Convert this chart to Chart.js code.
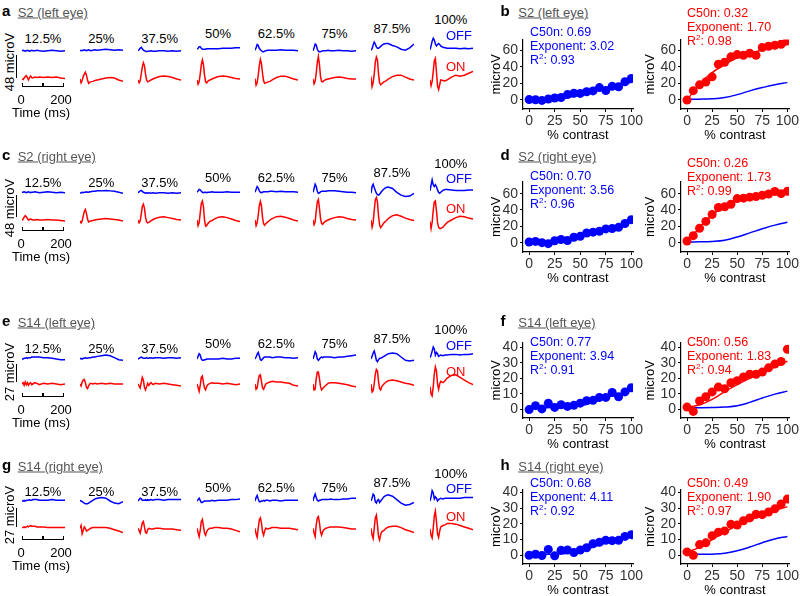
<!DOCTYPE html>
<html>
<head>
<meta charset="utf-8">
<script src="https://cdn.jsdelivr.net/npm/chart.js@4.4.0/dist/chart.umd.min.js"></script>
<style>
body{margin:0;background:#fff;}
#fig{position:relative;width:800px;height:596px;overflow:hidden;font-family:"Liberation Sans",Arial,sans-serif;}
.t{position:absolute;white-space:nowrap;line-height:1;}
canvas{position:absolute;}
.ln{position:absolute;background:#000;}
</style>
</head>
<body>
<div id="fig"></div>
<script>
// ---- data ----
var pctLabels = ['12.5%','25%','37.5%','50%','62.5%','75%','87.5%','100%'];
var tMs = [0,5,10,15,20,25,30,35,40,45,50,60,70,80,100,120,140,160,180,200];

// waveforms in microV (one array per contrast)
var aOn = [
  [0,-1,2,5,7,3,-2,3,6,3,2,4,3,4,3,4,3,4,2,1],
  [0,-8,-3,5,10,14,8,-2,-9,-7,-6,-5,-3,-2,0,2,3,2,-2,-5],
  [-2,-8,-4,10,25,34,28,10,-2,-6,-5,-2,0,2,5,6,5,3,0,-2],
  [-2,-11,-6,10,30,40,30,8,-6,-8,-5,-2,0,2,5,6,5,3,1,0],
  [1,-13,-8,8,28,41,32,12,-4,-9,-8,-6,-5,-2,3,6,6,3,0,-2],
  [0,-10,-5,12,35,47,30,5,-5,-6,-4,-1,0,1,3,4,3,1,0,0],
  [5,-16,-8,10,35,46,40,10,-8,-12,-10,-6,-4,0,5,8,8,4,0,-2],
  [-2,-14,-5,15,38,43,15,-15,-22,-12,-2,-3,-4,-2,4,8,6,8,12,16]
];
var aOff = [
  [0,1,0,-1,0,1,0,-1,0,1,0,0,1,0,-1,0,1,0,-1,0],
  [0,1,0,1,2,1,0,1,2,1,0,1,2,1,2,3,2,1,2,1],
  [0,2,5,7,4,1,0,-1,-2,-1,-1,0,-1,-1,0,0,-1,0,-1,0],
  [3,5,8,8,5,3,3,3,3,4,4,4,4,4,4,5,5,5,6,6],
  [1,6,13,11,5,2,0,-2,-2,-1,0,1,1,1,1,2,1,1,1,0],
  [0,6,14,12,3,-1,-2,-2,-1,0,0,0,1,0,0,1,0,0,-1,0],
  [1,4,12,18,14,8,5,5,7,9,11,14,15,15,11,8,3,1,6,14],
  [2,10,20,26,22,14,10,13,15,13,10,7,6,5,5,5,4,5,4,5]
];
var cOn = [
  [-1,2,6,9,7,3,0,1,2,1,0,0,1,0,0,1,0,0,-1,-2],
  [-2,-6,-2,8,18,22,14,2,-4,-3,-2,-1,0,1,2,3,2,1,0,-2],
  [0,-6,-2,12,28,33,25,6,-4,-6,-5,-2,1,3,6,7,5,3,1,0],
  [0,-12,-6,15,35,40,28,0,-13,-12,-8,-3,-1,2,6,7,5,2,-1,-3],
  [0,-12,-6,10,30,39,30,5,-8,-11,-8,-4,0,3,7,8,6,3,0,-2],
  [0,-10,-4,18,38,43,25,3,-7,-9,-6,-2,0,2,5,7,6,3,1,0],
  [0,-15,-6,20,42,47,38,8,-10,-16,-13,-6,-2,3,9,11,8,4,1,-1],
  [-3,-18,-5,20,38,40,20,-5,-15,-18,-18,-15,-10,-5,0,5,8,7,4,2]
];
var cOff = [
  [0,0,1,0,-1,0,1,0,-1,0,0,1,0,-1,0,1,0,-1,0,-1],
  [-2,-1,0,-1,0,0,1,0,0,1,1,2,2,3,3,4,3,2,0,-2],
  [-1,1,3,4,2,0,-1,-2,-1,-2,-1,-2,-1,-2,-1,-1,-2,-1,-2,-1],
  [0,3,6,5,2,0,-1,0,0,-1,0,0,1,0,0,0,1,0,0,0],
  [0,6,12,9,3,0,-1,0,1,1,1,1,2,2,1,2,1,1,1,0],
  [0,8,17,12,2,-2,-1,1,2,2,2,2,3,3,3,2,1,0,0,-1],
  [-2,12,17,10,4,-2,-5,-6,-4,-1,2,7,10,11,8,0,-6,-9,-8,-2],
  [3,15,26,16,12,16,12,5,0,-2,0,4,6,6,5,4,4,4,5,5]
];
var eOn = [
  [0,2,-2,3,-1,2,-2,1,2,-1,0,2,1,-1,1,0,1,0,-1,0],
  [0,-3,3,6,7,2,-5,-7,-3,0,1,0,1,0,1,0,1,0,0,0],
  [0,-3,-6,2,10,6,-5,-9,-4,1,-2,2,-1,1,0,1,0,-1,-2,-3],
  [0,-5,-11,-2,10,12,2,-6,-9,-4,-1,1,2,1,1,0,1,0,-1,0],
  [0,-8,-6,5,13,14,4,-6,-8,-4,0,2,3,4,3,3,2,1,-2,-3],
  [0,-9,-8,8,18,18,8,-4,-9,-7,-5,-2,1,2,2,1,0,-1,-3,-4],
  [0,-12,-10,0,15,22,20,4,-7,-9,-4,0,3,5,6,5,3,1,0,-2],
  [-4,-15,-18,-4,15,26,20,0,-8,0,4,2,5,9,13,14,10,6,2,-1]
];
var eOff = [
  [0,0,1,1,2,1,2,2,2,3,3,3,3,3,2,2,1,0,-1,-1],
  [0,1,0,1,1,2,1,1,2,2,2,3,3,4,5,6,5,2,-1,-2],
  [0,1,2,3,2,1,1,1,2,1,1,2,1,2,2,1,2,2,1,2],
  [0,4,8,6,0,-2,-2,-1,-1,0,0,0,0,0,0,1,0,0,1,1],
  [0,3,7,10,5,-1,-2,0,2,3,3,3,3,2,3,3,2,2,1,2],
  [0,5,11,8,0,-2,0,2,3,2,3,3,3,3,2,3,3,4,5,6],
  [0,4,9,12,6,-2,-4,-1,1,1,2,4,6,8,9,8,3,-2,-3,-2],
  [2,6,12,18,15,6,10,8,4,5,6,5,6,6,7,7,6,7,7,8]
];
var gOn = [
  [1,1,2,1,2,3,2,3,4,3,3,3,2,2,2,1,1,1,1,1],
  [0,4,-8,-3,2,0,-4,-3,-2,-1,0,1,1,1,1,1,0,-2,-4,-6],
  [0,-3,-7,0,8,10,2,-6,-7,-2,0,-1,-1,0,0,-1,-1,-1,-2,-3],
  [0,-6,-12,-3,10,13,3,-7,-10,-5,-2,0,0,1,1,0,0,-1,-3,-5],
  [0,-8,-13,0,12,15,8,-5,-10,-4,0,-1,0,1,1,0,0,0,-1,-2],
  [0,-7,-12,5,15,17,8,-5,-10,-5,-2,0,1,2,2,2,1,0,-1,-1],
  [0,-10,-15,0,15,19,5,-12,-17,-9,-5,-3,0,2,3,3,1,-2,-4,-6],
  [-1,-10,-14,0,18,25,10,-8,-13,-4,2,4,5,7,7,6,4,2,0,-2]
];
var gOff = [
  [0,0,1,0,1,1,1,2,1,1,2,2,2,1,1,1,2,1,1,1],
  [1,0,-1,-2,-3,-4,-4,-4,-3,-2,-1,1,3,4,5,4,0,-3,-4,-1],
  [0,2,4,3,1,1,1,2,1,2,1,2,1,2,2,1,2,2,2,2],
  [0,2,4,1,-2,-2,-1,0,0,0,0,0,1,0,1,1,1,2,2,3],
  [0,5,8,3,-1,-1,0,0,1,0,1,1,0,1,1,0,1,1,1,1],
  [0,6,10,5,1,0,1,1,2,2,2,2,2,3,2,2,3,3,4,4],
  [0,4,10,8,-1,-3,1,2,-2,0,2,6,8,9,7,2,-3,-6,-5,-2],
  [0,6,15,12,3,6,4,0,2,3,4,3,4,4,4,4,4,5,5,5]
];

// contrast response (microV)
var contrast = [0,6.25,12.5,18.75,25,31.25,37.5,43.75,50,56.25,62.5,68.75,75,81.25,87.5,93.75,100];
var fitX = [0,12.5,25,37.5,50,62.5,75,87.5,100];
var bOffDots = [0.5,0.3,-0.5,1.2,2.4,3,6.5,8.2,8,10,11,15,11.5,16.5,16,22,26];
var bOnDots = [0,11.3,18.3,21.8,28,43.2,45.6,52.2,54.9,54.1,56.5,54.1,63.5,65,66.2,67.4,71.7];
var bOffFit = [0.8,1,1.5,3,6.5,11,15,18.5,21];
var bOnFit = [0,19,33,43,51,56,60.5,64,67];
var dOffDots = [0.8,1.6,0,-1.2,2.4,3.9,2.7,6.7,7.8,11.8,12.9,14,16.9,17.3,18.8,23.5,28.2];
var dOnDots = [2,8.6,17.6,26,34.5,43,44,47,54,54.5,55.7,56.5,58,59.6,62.7,60,63];
var dOffFit = [1,1,1.5,3,7,12,17,21.5,25];
var dOnFit = [2,18,34,44,51,55,58,60.5,62.5];
var fOffDots = [0,2.5,0.4,4.1,1.4,3.1,2,2.7,4.1,5.7,5.9,7.8,7.8,10.9,8.2,11.3,14];
var fOnDots = [1.6,-1.2,5.5,8.2,11.3,14.4,13.3,17.2,18.5,20.9,22.6,22.6,24,26.7,29.1,30.8,38.6];
var fOffFit = [1.2,1.2,1.3,1.6,2.4,4.6,7.4,9.9,11.8];
var fOnFit = [1.6,3,6.5,11.5,16,20,23.5,27.3,31];
var hOffDots = [0,0.6,-0.2,3.7,-0.4,3.1,3.3,1.7,3.3,4.8,7.3,8.3,9.5,9.3,9.5,12,13.1];
var hOnDots = [2.1,0,6.8,7.9,12.4,14.7,15.5,19.7,19.3,22,23.8,26.1,25.9,27.6,29.6,32.7,35.9];
var hOffFit = [0.8,0.6,0.7,1.2,2.8,5.2,8,10.4,12];
var hOnFit = [2,5,10,14.7,19,22.5,25.5,28.5,31];

var xTicks = [0,25,50,75,100];
var yTicksBig = [0,20,40,60];
var yTicksSmall = [0,10,20,30,40];

var stats = {
  b:{off:['0.69','3.02','0.93'], on:['0.32','1.70','0.98']},
  d:{off:['0.70','3.56','0.96'], on:['0.26','1.73','0.99']},
  f:{off:['0.77','3.94','0.91'], on:['0.56','1.83','0.94']},
  h:{off:['0.68','4.11','0.92'], on:['0.49','1.90','0.97']}
};

// ---- layout ----
var BLUE = '#0000ff', RED = '#ff0000';
var fig = document.getElementById('fig');
var traceX = [21.7,80,138.3,196.7,255,313.3,370.7,429.5];
var pctY = [37.7,37.7,37.7,33.3,33.3,33.3,28.3,19];

var leftRows = [
  {letter:'a', title:'S2 (left eye)', dy:0, on:aOn, off:aOff, redBase:79, blueBase:50.7, k:0.479,
   top:26, bottom:100, bar:'48 microV', barTop:55, barBot:78, barLabelY:61.7, timeY:86, offY:34.5, onY:66},
  {letter:'c', title:'S2 (right eye)', dy:144, on:cOn, off:cOff, redBase:220, blueBase:192.3, k:0.476,
   top:168, bottom:242, bar:'48 microV', barTop:195, barBot:217.3, barLabelY:208, timeY:229.5, offY:178.3, onY:208.3},
  {letter:'e', title:'S14 (left eye)', dy:310, on:eOn, off:eOff, redBase:384, blueBase:359, k:0.66,
   top:336, bottom:406, bar:'27 microV', barTop:364, barBot:381.7, barLabelY:371.7, timeY:396, offY:345, onY:371},
  {letter:'g', title:'S14 (right eye)', dy:453.5, on:gOn, off:gOff, redBase:528.3, blueBase:501, k:0.69,
   top:476, bottom:548, bar:'27 microV', barTop:508.3, barBot:527.3, barLabelY:515, timeY:539, offY:488.3, onY:516}
];

var rightRows = [
  {letter:'b', title:'S2 (left eye)', y:11, top:36.7, bottom:108.3, ymin:-10.9, ymax:73.3, ticks:yTicksBig,
   offDots:bOffDots, onDots:bOnDots, offFit:bOffFit, onFit:bOnFit, st:stats.b, blueY:32, redY:13},
  {letter:'d', title:'S2 (right eye)', y:155, top:179.3, bottom:252.7, ymin:-11.4, ymax:75, ticks:yTicksBig,
   offDots:dOffDots, onDots:dOnDots, offFit:dOffFit, onFit:dOnFit, st:stats.d, blueY:176, redY:163},
  {letter:'f', title:'S14 (left eye)', y:320.5, top:340, bottom:417.7, ymin:-5.4, ymax:43, ticks:yTicksSmall,
   offDots:fOffDots, onDots:fOnDots, offFit:fOffFit, onFit:fOnFit, st:stats.f, blueY:342, redY:342},
  {letter:'h', title:'S14 (right eye)', y:464.5, top:486.7, bottom:563.3, ymin:-5.6, ymax:42, ticks:yTicksSmall,
   offDots:hOffDots, onDots:hOnDots, offFit:hOffFit, onFit:hOnFit, st:stats.h, blueY:483, redY:483}
];

function text(s, x, y, css, center) {
  var d = document.createElement('div');
  d.className = 't';
  d.innerHTML = s;
  d.style.cssText += 'left:' + x + 'px;top:' + y + 'px;' + (css || '');
  d.style.transform = center ? 'translate(-50%,-50%)' : 'translate(0,-50%)';
  fig.appendChild(d);
  return d;
}
function line(x, y, w, h) {
  var d = document.createElement('div');
  d.className = 'ln';
  d.style.left = x + 'px'; d.style.top = y + 'px';
  d.style.width = w + 'px'; d.style.height = h + 'px';
  fig.appendChild(d);
}
function canvasAt(left, top, w, h) {
  var c = document.createElement('canvas');
  c.width = w; c.height = h;
  c.style.left = left + 'px'; c.style.top = top + 'px';
  fig.appendChild(c);
  return c;
}
function pts(xs, ys) {
  return xs.map(function(x, i){ return {x:x, y:ys[i]}; });
}

// ---- waveform panels ----
leftRows.forEach(function(r) {
  text('<b>' + r.letter + '</b>', 2, 10 + r.dy, 'font-size:15px;');
  text(r.title, 17.7, 12 + r.dy, 'font-size:13px;color:#555;text-decoration:underline;');
  for (var i = 0; i < 8; i++) {
    text(pctLabels[i], traceX[i] + 21.3, pctY[i] + r.dy, 'font-size:13px;', true);
    var pad = 3;
    var cl = Math.round(traceX[i] - pad), ct = Math.round(r.top - pad);
    var cw = 49, ch = Math.round(r.bottom - r.top + 2 * pad);
    var aTop = ct + pad, aBot = ct + ch - pad;
    var c = canvasAt(cl, ct, cw, ch);
    new Chart(c, {
      type: 'scatter',
      data: { datasets: [
        {data: pts(tMs, r.off[i]), yAxisID: 'yb', showLine: true, borderColor: BLUE, borderWidth: 1.5, pointRadius: 0, tension: 0},
        {data: pts(tMs, r.on[i]), yAxisID: 'y', showLine: true, borderColor: RED, borderWidth: 1.5, pointRadius: 0, tension: 0}
      ]},
      options: {
        animation: false, responsive: false, devicePixelRatio: 1,
        layout: {padding: pad},
        plugins: {legend: {display: false}, tooltip: {enabled: false}},
        scales: {
          x: {type: 'linear', display: false, min: 0, max: 200},
          y: {display: false, min: -(aBot - r.redBase) / r.k, max: (r.redBase - aTop) / r.k},
          yb: {display: false, min: -(aBot - r.blueBase) / r.k, max: (r.blueBase - aTop) / r.k}
        }
      }
    });
  }
  // scale bars
  line(16.2, r.barTop, 1.3, r.barBot - r.barTop);
  text(r.bar, 9, r.barLabelY, 'font-size:13px;', true)
    .style.transform = 'translate(-50%,-50%) rotate(-90deg)';
  line(21.7, r.timeY, 42.6, 1.3);
  line(21.7, r.timeY - 3, 1.3, 3);
  line(42.4, r.timeY - 3, 1.3, 3);
  line(63.2, r.timeY - 3, 1.3, 3);
  text('0', 21, r.timeY + 13, 'font-size:13px;', true);
  text('200', 61, r.timeY + 13, 'font-size:13px;', true);
  text('Time (ms)', 41, r.timeY + 26, 'font-size:13px;', true);
  text('OFF', 446, r.offY, 'font-size:13px;color:' + BLUE + ';');
  text('ON', 446, r.onY, 'font-size:13px;color:' + RED + ';');
});

// ---- contrast response panels ----
function responsePlot(areaLeft, areaW, row, sets, titlePad) {
  var yw = 40, xh = 34, padT = 8, padR = 14;
  var cl = Math.round(areaLeft - yw), ct = Math.round(row.top - padT);
  var cw = Math.round(yw + areaW + padR), ch = Math.round(padT + (row.bottom - row.top) + xh);
  var c = canvasAt(cl, ct, cw, ch);
  var tickFont = {family: 'Liberation Sans', size: 14};
  var titleFont = {family: 'Liberation Sans', size: 13};
  new Chart(c, {
    type: 'scatter',
    data: {datasets: sets},
    options: {
      animation: false, responsive: false, devicePixelRatio: 1,
      layout: {padding: {left: 0, top: padT, right: padR, bottom: 0}},
      plugins: {legend: {display: false}, tooltip: {enabled: false}},
      scales: {
        x: {
          type: 'linear', min: -6, max: 101.6,
          afterFit: function(s){ s.height = xh; },
          afterBuildTicks: function(s){ s.ticks = xTicks.map(function(v){ return {value: v}; }); },
          ticks: {font: tickFont, color: '#333', padding: 1, autoSkip: false, maxRotation: 0},
          grid: {drawOnChartArea: false, drawTicks: true, tickLength: 3, color: '#000'},
          border: {color: '#000', width: 1.2},
          title: {display: true, text: '% contrast', font: titleFont, color: '#000', padding: {top: 0, bottom: 0}}
        },
        y: {
          min: row.ymin, max: row.ymax,
          afterFit: function(s){ s.width = yw; },
          afterBuildTicks: function(s){ s.ticks = row.ticks.map(function(v){ return {value: v}; }); },
          ticks: {font: tickFont, color: '#333', padding: 2, autoSkip: false},
          grid: {drawOnChartArea: false, drawTicks: true, tickLength: 3, color: '#000'},
          border: {color: '#000', width: 1.2},
          title: {display: true, text: 'microV', font: titleFont, color: '#000', padding: {top: titlePad, bottom: 0}}
        }
      }
    }
  });
}

function statText(st, x, y, color) {
  var css = 'font-size:12.5px;color:' + color + ';';
  text('C50n: ' + st[0], x, y, css);
  text('Exponent: ' + st[1], x, y + 13.8, css);
  text('R<sup style="font-size:8px;vertical-align:5px;line-height:0">2</sup>: ' + st[2], x, y + 27.6, css);
}

rightRows.forEach(function(r) {
  text('<b>' + r.letter + '</b>', 500.5, r.y - 1, 'font-size:15px;');
  text(r.title, 518.3, r.y + 1, 'font-size:13px;color:#555;text-decoration:underline;');
  responsePlot(523.3, 109.5, r, [
    {data: pts(contrast, r.offDots), backgroundColor: BLUE, pointRadius: 4.5, borderWidth: 0},
    {data: pts(fitX, r.offFit), showLine: true, borderColor: BLUE, borderWidth: 1.5, pointRadius: 0, tension: 0.4}
  ], 6);
  responsePlot(681, 108, r, [
    {data: pts(contrast, r.onDots), backgroundColor: RED, pointRadius: 4.5, borderWidth: 0},
    {data: pts(fitX, r.onFit), showLine: true, borderColor: RED, borderWidth: 1.5, pointRadius: 0, tension: 0.4},
    {data: pts(fitX, r.offFit), showLine: true, borderColor: BLUE, borderWidth: 1.5, pointRadius: 0, tension: 0.4}
  ], 2);
  statText(r.st.off, 530, r.blueY, BLUE);
  statText(r.st.on, 687, r.redY, RED);
});
</script>
</body>
</html>
